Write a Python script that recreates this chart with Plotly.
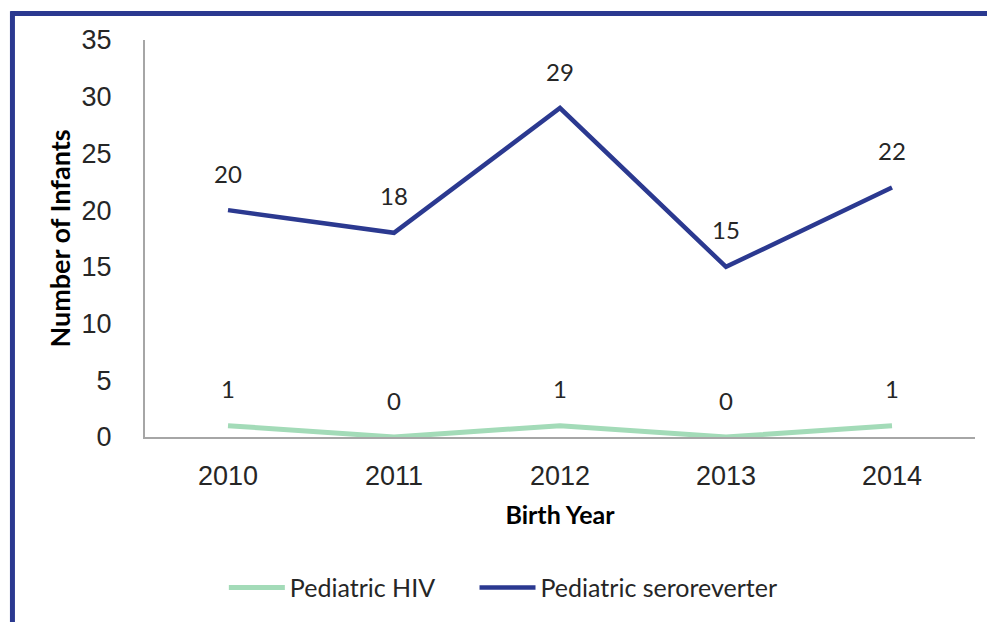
import plotly.graph_objects as go

years = ["2010", "2011", "2012", "2013", "2014"]
hiv = [1, 0, 1, 0, 1]
seroreverter = [20, 18, 29, 15, 22]

BLUE = "#2B3990"
GREEN = "#A3DBB8"
TEXT = "#262626"

fig = go.Figure()

fig.add_trace(go.Scatter(
    x=years, y=hiv, mode="lines", name="Pediatric HIV",
    line=dict(color=GREEN, width=5), legend="legend",
))
fig.add_trace(go.Scatter(
    x=years, y=seroreverter, mode="lines", name="Pediatric seroreverter",
    line=dict(color=BLUE, width=4.5), legend="legend2",
))

# value labels above each point (category index, since "2010" would be read as a number)
for series in (hiv, seroreverter):
    for i, v in enumerate(series):
        fig.add_annotation(
            x=i, y=v, text=str(v), showarrow=False, yshift=37,
            font=dict(family="Lato", size=24, color=TEXT),
        )

# frame lines on top and left of the picture
fig.add_shape(type="line", xref="paper", yref="paper",
              x0=-0.162, x1=1.05, y0=1.0668, y1=1.0668,
              line=dict(color=BLUE, width=5))
fig.add_shape(type="line", xref="paper", yref="paper",
              x0=-0.1597, x1=-0.1597, y0=1.0725, y1=-0.5,
              line=dict(color=BLUE, width=5))

legend_style = dict(
    orientation="h", xanchor="left", y=-0.38, yanchor="middle",
    font=dict(family="Lato", size=25, color=TEXT),
    itemwidth=56,
)

fig.update_layout(
    width=995, height=622,
    margin=dict(l=137, r=28, t=32, b=193),
    plot_bgcolor="white", paper_bgcolor="white",
    font=dict(family="Liberation Sans", color=TEXT),
    showlegend=True,
    legend=dict(x=0.095, **legend_style),
    legend2=dict(x=0.397, **legend_style),
    xaxis=dict(
        type="category", range=[-0.5, 4.5],
        showline=True, linecolor="#A6A6A6", linewidth=2,
        showgrid=False, ticks="", ticklabelstandoff=14,
        tickfont=dict(family="Liberation Sans", size=27, color=TEXT),
        title=dict(text="<b>Birth Year</b>", standoff=16,
                   font=dict(family="Lato", size=25, color="#000000")),
    ),
    yaxis=dict(
        range=[0, 35], dtick=5,
        showline=True, linecolor="#A6A6A6", linewidth=2,
        showgrid=False, zeroline=False, ticks="", ticklabelstandoff=26,
        tickfont=dict(family="Liberation Sans", size=27, color=TEXT),
        title=dict(text="<b>Number of Infants</b>", standoff=3,
                   font=dict(family="Lato", size=27, color="#000000")),
    ),
)

fig.write_html("out.html")
